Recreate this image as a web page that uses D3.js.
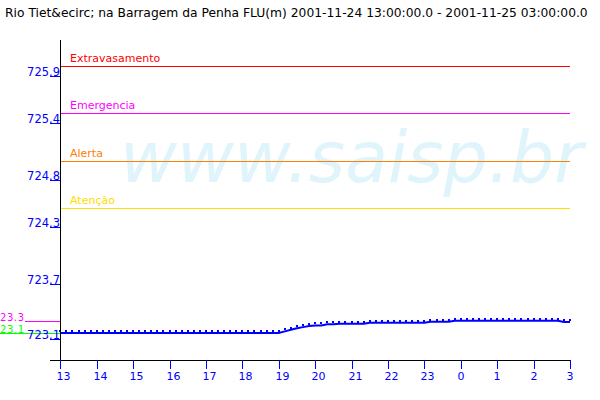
<!DOCTYPE html>
<html>
<head>
<meta charset="utf-8">
<script src="https://cdn.jsdelivr.net/npm/d3@7"></script>
<style>
  html, body { margin: 0; padding: 0; background: #fff; }
  svg { display: block; }
  text { font-family: "DejaVu Sans", sans-serif; }
</style>
</head>
<body>
<svg id="chart" width="600" height="400"></svg>
<script>
// ---- data ----
const title = "Rio Tiet&ecirc; na Barragem da Penha FLU(m) 2001-11-24 13:00:00.0 - 2001-11-25 03:00:00.0";
const startTime = "2001-11-24T13:00:00";
const endTime = "2001-11-25T03:00:00";
const stepMinutes = 10;
// water level (m), one reading every 10 minutes from 13:00 to 03:00
const levels = [
  723.184, 723.184, 723.184, 723.184, 723.184, 723.184, // 13:00-13:50
  723.184, 723.184, 723.184, 723.184, 723.184, 723.184, // 14
  723.184, 723.184, 723.184, 723.184, 723.184, 723.184, // 15
  723.184, 723.184, 723.184, 723.184, 723.184, 723.184, // 16
  723.184, 723.184, 723.184, 723.184, 723.184, 723.184, // 17
  723.184, 723.184, 723.184, 723.184, 723.184, 723.184, // 18
  723.184, 723.201, 723.218, 723.233, 723.246, 723.257, // 19
  723.264, 723.264, 723.275, 723.275, 723.281, 723.281, // 20
  723.281, 723.281, 723.281, 723.292, 723.292, 723.292, // 21
  723.292, 723.292, 723.292, 723.292, 723.292, 723.292, // 22
  723.292, 723.302, 723.302, 723.302, 723.302, 723.313, // 23
  723.313, 723.313, 723.313, 723.313, 723.313, 723.313, // 00
  723.313, 723.313, 723.313, 723.313, 723.313, 723.313, // 01
  723.313, 723.313, 723.313, 723.313, 723.313, 723.299, // 02
  723.299                                                // 03:00
];
const thresholdNames = ["Extravasamento", "Emergencia", "Alerta", "Atenção"];
const thresholdValues = [726.0, 725.5, 725.0, 724.5];
const thresholdColors = ["#ff0000", "#ff00ff", "#ff8000", "#ffdd00"];
const yTickValues = [723.12, 723.7, 724.3, 724.8, 725.4, 725.9];
const yTickLabels = ["723.1", "723.7", "724.3", "724.8", "725.4", "725.9"];
const limitLabels = ["23.3", "23.1"];   // max / min markers
const limitColors = ["#ff00ff", "#00ff00"];
const watermark = "www.saisp.br";

// ---- build ----
const parse = d3.timeParse("%Y-%m-%dT%H:%M:%S");
const t0 = parse(startTime), t1 = parse(endTime);
const series = levels.map((v, i) => ({ t: d3.timeMinute.offset(t0, i * stepMinutes), v }));

const svg = d3.select("#chart");
const x = d3.scaleTime().domain([t0, t1]).range([60.3, 570]);
const y = d3.scaleLinear().domain([722.899, 726.275]).range([360, 40]);

// watermark
svg.append("text")
  .attr("x", 120).attr("y", 181.5)
  .attr("font-size", 71)
  .attr("font-style", "italic")
  .attr("textLength", 463).attr("lengthAdjust", "spacingAndGlyphs")
  .attr("fill", "#e0f4fc")
  .text(watermark);

// title
svg.append("text")
  .attr("x", 5).attr("y", 17)
  .attr("font-size", 12.3)
  .attr("fill", "#000")
  .text(title);

// threshold lines
const th = svg.append("g");
thresholdValues.forEach((v, i) => {
  const yy = Math.round(y(v)) + 0.5;
  th.append("line")
    .attr("x1", 60).attr("x2", 570).attr("y1", yy).attr("y2", yy)
    .attr("stroke", thresholdColors[i]).attr("stroke-width", 1)
    .attr("shape-rendering", "crispEdges");
  th.append("text")
    .attr("x", 70).attr("y", yy - 5)
    .attr("font-size", 11)
    .attr("fill", thresholdColors[i])
    .text(thresholdNames[i]);
});

// max / min markers
const limits = [d3.max(levels), d3.min(levels)];
limits.forEach((v, i) => {
  const row = Math.round(y(v));
  svg.append("line")
    .attr("x1", i === 0 ? 25 : 0).attr("x2", 60).attr("y1", row + 0.5).attr("y2", row + 0.5)
    .attr("stroke", limitColors[i]).attr("stroke-width", 1)
    .attr("shape-rendering", "crispEdges");
  svg.append("text")
    .attr("x", 0).attr("y", row)
    .attr("font-size", 10)
    .attr("letter-spacing", 0.6)
    .attr("fill", limitColors[i])
    .text(limitLabels[i]);
});

// data line
svg.append("path")
  .datum(series)
  .attr("fill", "none")
  .attr("stroke", "#0000ff")
  .attr("stroke-width", 2)
  .attr("d", d3.line().x(d => x(d.t)).y(d => y(d.v)));
svg.append("g").selectAll("rect")
  .data(series)
  .join("rect")
  .attr("x", d => Math.round(x(d.t)) - 1)
  .attr("y", d => Math.round(y(d.v)) - 3)
  .attr("width", 2).attr("height", 2)
  .attr("fill", "#0000ff")
  .attr("shape-rendering", "crispEdges");

// y axis
svg.append("line")
  .attr("x1", 60.5).attr("x2", 60.5).attr("y1", 40).attr("y2", 360)
  .attr("stroke", "#000").attr("shape-rendering", "crispEdges");
const yt = svg.append("g");
yTickValues.forEach((v, i) => {
  const yy = Math.round(y(v));
  yt.append("line")
    .attr("x1", 50).attr("x2", 60).attr("y1", yy + 0.5).attr("y2", yy + 0.5)
    .attr("stroke", "#0000ff").attr("shape-rendering", "crispEdges");
  yt.append("text")
    .attr("x", 60).attr("y", yy)
    .attr("text-anchor", "end")
    .attr("font-size", 11.5)
    .attr("fill", "#0000ff")
    .text(yTickLabels[i]);
});

// x axis
svg.append("line")
  .attr("x1", 50).attr("x2", 570).attr("y1", 360.5).attr("y2", 360.5)
  .attr("stroke", "#000").attr("shape-rendering", "crispEdges");
const xt = svg.append("g");
x.ticks(d3.timeHour.every(1)).forEach(t => {
  const xx = Math.round(x(t)) + 0.5;
  xt.append("line")
    .attr("x1", xx).attr("x2", xx).attr("y1", 360).attr("y2", 369)
    .attr("stroke", "#0000ff").attr("shape-rendering", "crispEdges");
  xt.append("text")
    .attr("x", xx - 4).attr("y", 380)
    .attr("font-size", 11)
    .attr("fill", "#0000ff")
    .text(d3.timeFormat("%-H")(t));
});
</script>
</body>
</html>
